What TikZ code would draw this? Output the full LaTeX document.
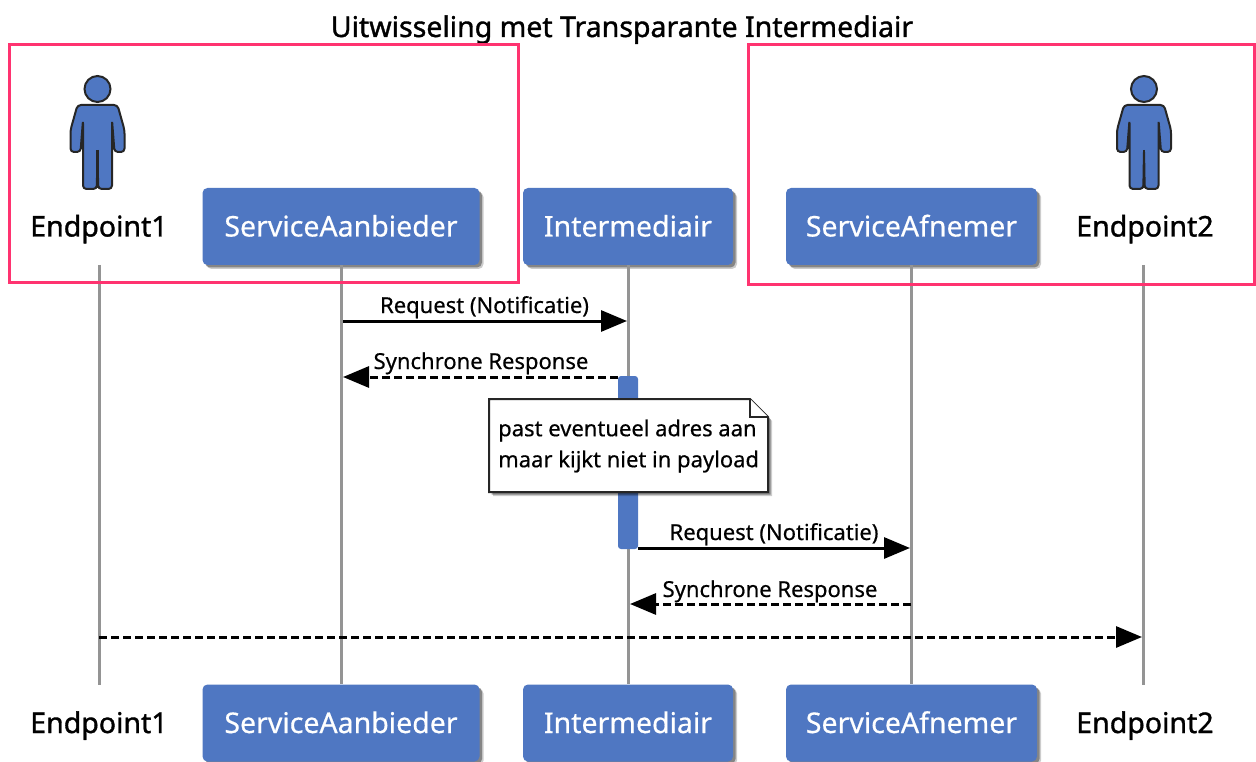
\documentclass[tikz,border=0pt]{standalone}
\usepackage{fontspec}
\setmainfont[RawFeature={embolden=0.5},Ligatures=NoCommon]{Noto Sans}
\newfontfamily\headfont[RawFeature={embolden=1.2}]{Noto Sans}
\usepackage{tikz}
\usetikzlibrary{arrows.meta,shadows}
\definecolor{boxblue}{HTML}{4F77C2}
\definecolor{framepink}{HTML}{FF3370}
\tikzstyle{box shadow}=[drop shadow={shadow xshift=4pt, shadow yshift=-4pt, opacity=0.2, fill=black}, drop shadow={shadow xshift=2.5pt, shadow yshift=-2.5pt, opacity=0.35, fill=black}]
\tikzstyle{participant}=[node font=\fontsize{28.5}{32}\selectfont, fill=boxblue, text=white, rounded corners=5pt, minimum height=77pt, inner sep=0pt, text height=20pt, text depth=0pt, box shadow]
\tikzstyle{endpoint}=[node font=\headfont\fontsize{28.5}{32}\selectfont, minimum width=140pt, minimum height=77pt, inner sep=0pt, text height=20pt, text depth=0pt]
\tikzstyle{lifeline}=[draw, line width=3pt, black!42]
\tikzstyle{edge}=[draw, line width=3pt, -{Triangle[length=26pt,width=21pt]}]
\tikzstyle{return edge}=[edge, dash pattern=on 8pt off 4pt]
\tikzstyle{msg}=[node font=\fontsize{22}{26}\selectfont, inner sep=0pt, text height=16pt, text depth=0pt]
\tikzstyle{frame}=[draw=framepink, line width=3pt]
\tikzstyle{person}=[draw=black!85, line width=2pt, fill=boxblue]
\begin{document}
\begin{tikzpicture}[x=1pt,y=-1pt]
	\useasboundingbox (0,0) rectangle (1256,762);
	\node[inner sep=0pt, node font=\headfont\fontsize{28.5}{32}\selectfont, text height=21pt, text depth=0pt] (title) at (622,26.5) {Uitwisseling met Transparante Intermediair};

	% Participants, top row and bottom row
	\foreach \pos/\label/\name/\wid in {
		{(341,226.5)/sa/ServiceAanbieder/277},
		{(628,226.5)/im/Intermediair/210},
		{(911.5,226.5)/sf/ServiceAfnemer/251},
		{(341,723)/sab/ServiceAanbieder/277},
		{(628,723)/imb/Intermediair/210},
		{(911.5,723)/sfb/ServiceAfnemer/251}}
	\node[participant, minimum width=\wid pt] (\label) at \pos{\name};

	\foreach \pos/\label/\name in {
		{(99,226.5)/ea/Endpoint1},
		{(1145,226.5)/eb/Endpoint2},
		{(99,723)/eab/Endpoint1},
		{(1145,723)/ebb/Endpoint2}}
	\node[endpoint] (\label) at \pos{\name};

	% Lifelines
	\foreach \source/ \dest in {
		sa/sab,
		im/imb,
		sf/sfb}
	\path[lifeline] (\source) -- (\dest);
	\path[lifeline] (99,265) coordinate (ls) -- (99,685) coordinate (le);
	\path[lifeline] (1143,265) coordinate (rs) -- (1143,685) coordinate (re);

	% Activation bar and note
	\node[fill=boxblue, rounded corners=3pt, minimum width=20pt, minimum height=173pt, inner sep=0pt] (act) at (628,462.5) {};
	\coordinate (nw) at (489,399);
	\coordinate (se) at (768,492);
	\coordinate (fa) at (750,399);
	\coordinate (fb) at (768,417);
	\coordinate (fc) at (750,417);
	\path[draw=black!85, line width=2pt, fill=white, box shadow] (nw) -- (fa) -- (fb) -- (se) -- (489,492) -- cycle;
	\path[draw=black!85, line width=1.2pt, fill=white] (fa) -- (fc) -- (fb);
	\node[node font=\fontsize{22}{31}\selectfont, align=left, inner sep=0pt, anchor=west] (note) at (498,446) {past eventueel adres aan\\maar kijkt niet in payload};

	% Messages
	\coordinate (m1a) at (343,321);
	\coordinate (m1b) at (627,321);
	\coordinate (m2a) at (618,377);
	\coordinate (m2b) at (343,377);
	\coordinate (m3a) at (638,548);
	\coordinate (m3b) at (910,548);
	\coordinate (m4a) at (911,604);
	\coordinate (m4b) at (630,604);
	\coordinate (m5a) at (99,637);
	\coordinate (m5b) at (1142,637);
	\path[edge] (m1a) -- (m1b);
	\node[msg] (l1) at (484.5,305) {Request (Notificatie)};
	\path[return edge] (m2a) -- (m2b);
	\node[msg] (l2) at (481,361) {Synchrone Response};
	\path[edge] (m3a) -- (m3b);
	\node[msg] (l3) at (774,532) {Request (Notificatie)};
	\path[return edge] (m4a) -- (m4b);
	\node[msg] (l4) at (770,589) {Synchrone Response};
	\path[return edge] (m5a) -- (m5b);

	% Actors
	\foreach \x in {97.5,1144} {
		\begin{scope}[xshift=\x pt]
			\path[person] (0,89) circle (13pt);
			\path[person, rounded corners=3.5pt] (0,105) -- (-20,105) -- (-27,130) -- (-27,152) -- (-17,152) -- (-14.5,120) -- (-14.5,189) -- (-0.7,189) -- (0,150) -- (0.7,189) -- (14.5,189) -- (14.5,120) -- (17,152) -- (27,152) -- (27,130) -- (20,105) -- cycle;
			\path[draw=black!85, line width=2.5pt] (0,150) -- (0,188);
		\end{scope}
	}

	% Highlight frames
	\path[frame] (9,45) rectangle (518,282);
	\path[frame] (748,45) rectangle (1254,284);
\end{tikzpicture}
\end{document}
